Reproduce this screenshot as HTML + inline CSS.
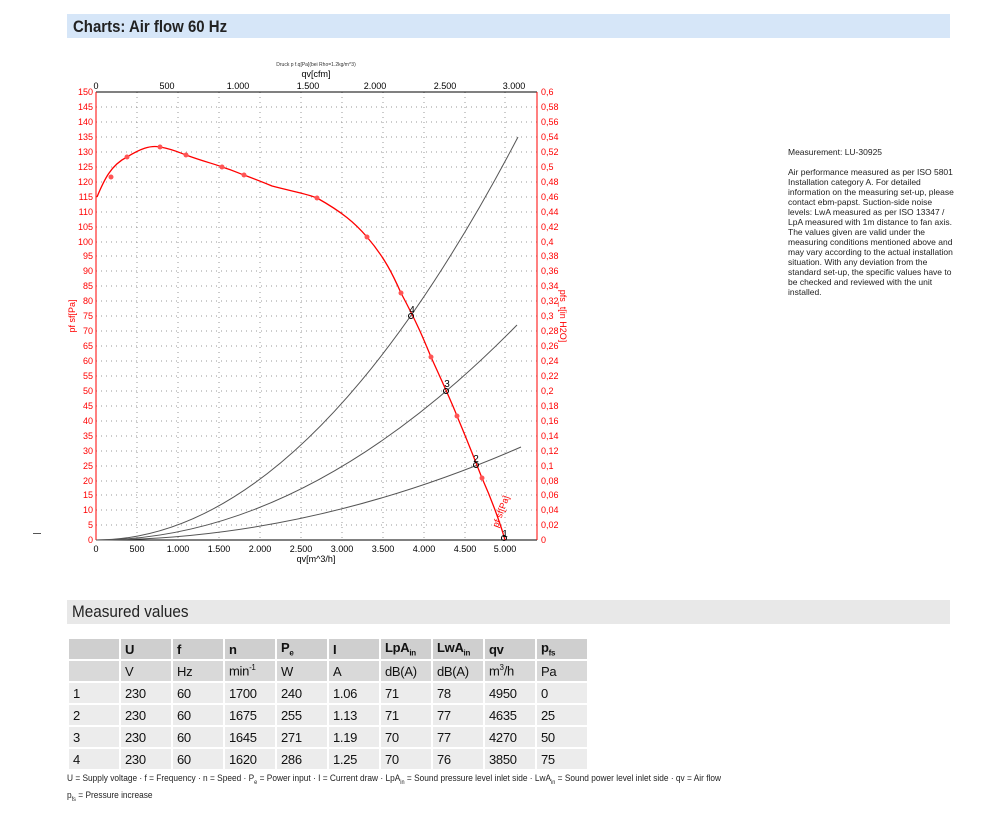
<!DOCTYPE html>
<html><head><meta charset="utf-8"><style>
body{margin:0;background:#fff;width:1000px;height:820px;position:relative;font-family:"Liberation Sans",Arial,sans-serif;overflow:hidden}
.bar{position:absolute;left:67px;width:883px;height:24px}
table{position:absolute;left:67px;top:637px;border-collapse:separate;border-spacing:2px;font-size:13px;font-family:"Liberation Sans",sans-serif}
td{height:20px;padding:0 0 0 4px;width:46px;color:#111;letter-spacing:-0.3px}
.h td{background:#cfcfcf}
.u td{background:#d9d9d9}
.r td{background:#ececec}
</style></head><body>
<div class="bar" style="top:14px;background:#d6e6f8"><span style="position:absolute;left:6px;top:3px;font-size:17px;font-weight:bold;color:#222;transform:scaleX(0.88);transform-origin:left;white-space:nowrap">Charts: Air flow 60 Hz</span></div>
<div style="position:absolute;left:33px;top:533px;width:8px;height:1px;background:#555"></div>
<svg style="position:absolute;left:0;top:0" width="1000" height="600" font-family="Liberation Sans, sans-serif">
<text x="316" y="66" font-size="5" text-anchor="middle" fill="#333">Druck p f.q[Pa](bei Rho=1.2kg/m^3)</text>
<text x="316" y="77" font-size="9" text-anchor="middle" fill="#000">qv[cfm]</text>
<g font-size="9" text-anchor="middle" fill="#000">
<text x="96" y="89">0</text><text x="167" y="89">500</text><text x="238" y="89">1.000</text><text x="308" y="89">1.500</text><text x="375" y="89">2.000</text><text x="445" y="89">2.500</text><text x="514" y="89">3.000</text>
</g>
<g stroke="#999" stroke-dasharray="1,4" stroke-width="1">
<line x1="96" x2="537" y1="107" y2="107"/><line x1="96" x2="537" y1="122" y2="122"/><line x1="96" x2="537" y1="137" y2="137"/><line x1="96" x2="537" y1="152" y2="152"/><line x1="96" x2="537" y1="167" y2="167"/><line x1="96" x2="537" y1="182" y2="182"/><line x1="96" x2="537" y1="197" y2="197"/><line x1="96" x2="537" y1="212" y2="212"/><line x1="96" x2="537" y1="227" y2="227"/><line x1="96" x2="537" y1="242" y2="242"/><line x1="96" x2="537" y1="256" y2="256"/><line x1="96" x2="537" y1="271" y2="271"/><line x1="96" x2="537" y1="286" y2="286"/><line x1="96" x2="537" y1="301" y2="301"/><line x1="96" x2="537" y1="316" y2="316"/><line x1="96" x2="537" y1="331" y2="331"/><line x1="96" x2="537" y1="346" y2="346"/><line x1="96" x2="537" y1="361" y2="361"/><line x1="96" x2="537" y1="376" y2="376"/><line x1="96" x2="537" y1="391" y2="391"/><line x1="96" x2="537" y1="406" y2="406"/><line x1="96" x2="537" y1="421" y2="421"/><line x1="96" x2="537" y1="436" y2="436"/><line x1="96" x2="537" y1="451" y2="451"/><line x1="96" x2="537" y1="466" y2="466"/><line x1="96" x2="537" y1="481" y2="481"/><line x1="96" x2="537" y1="495" y2="495"/><line x1="96" x2="537" y1="510" y2="510"/><line x1="96" x2="537" y1="525" y2="525"/>
<line x1="137" x2="137" y1="92" y2="540"/><line x1="178" x2="178" y1="92" y2="540"/><line x1="219" x2="219" y1="92" y2="540"/><line x1="260" x2="260" y1="92" y2="540"/><line x1="301" x2="301" y1="92" y2="540"/><line x1="342" x2="342" y1="92" y2="540"/><line x1="383" x2="383" y1="92" y2="540"/><line x1="424" x2="424" y1="92" y2="540"/><line x1="465" x2="465" y1="92" y2="540"/><line x1="505" x2="505" y1="92" y2="540"/>
</g>
<line x1="96" x2="537" y1="92" y2="92" stroke="#000"/>
<line x1="96" x2="537" y1="540" y2="540" stroke="#000"/>
<line x1="96" x2="96" y1="92" y2="540" stroke="#f00"/>
<line x1="537" x2="537" y1="92" y2="540" stroke="#f00"/>
<g font-size="9" fill="#f00" text-anchor="end">
<text x="93" y="95">150</text><text x="93" y="110">145</text><text x="93" y="125">140</text><text x="93" y="140">135</text><text x="93" y="155">130</text><text x="93" y="170">125</text><text x="93" y="185">120</text><text x="93" y="200">115</text><text x="93" y="215">110</text><text x="93" y="230">105</text><text x="93" y="245">100</text><text x="93" y="259">95</text><text x="93" y="274">90</text><text x="93" y="289">85</text><text x="93" y="304">80</text><text x="93" y="319">75</text><text x="93" y="334">70</text><text x="93" y="349">65</text><text x="93" y="364">60</text><text x="93" y="379">55</text><text x="93" y="394">50</text><text x="93" y="409">45</text><text x="93" y="424">40</text><text x="93" y="439">35</text><text x="93" y="454">30</text><text x="93" y="469">25</text><text x="93" y="484">20</text><text x="93" y="498">15</text><text x="93" y="513">10</text><text x="93" y="528">5</text><text x="93" y="543">0</text>
</g>
<g font-size="9" fill="#f00">
<text x="541" y="95">0,6</text><text x="541" y="110">0,58</text><text x="541" y="125">0,56</text><text x="541" y="140">0,54</text><text x="541" y="155">0,52</text><text x="541" y="170">0,5</text><text x="541" y="185">0,48</text><text x="541" y="200">0,46</text><text x="541" y="215">0,44</text><text x="541" y="230">0,42</text><text x="541" y="245">0,4</text><text x="541" y="259">0,38</text><text x="541" y="274">0,36</text><text x="541" y="289">0,34</text><text x="541" y="304">0,32</text><text x="541" y="319">0,3</text><text x="541" y="334">0,28</text><text x="541" y="349">0,26</text><text x="541" y="364">0,24</text><text x="541" y="379">0,22</text><text x="541" y="394">0,2</text><text x="541" y="409">0,18</text><text x="541" y="424">0,16</text><text x="541" y="439">0,14</text><text x="541" y="454">0,12</text><text x="541" y="469">0,1</text><text x="541" y="484">0,08</text><text x="541" y="498">0,06</text><text x="541" y="513">0,04</text><text x="541" y="528">0,02</text><text x="541" y="543">0</text>
</g>
<text transform="translate(75,316) rotate(-90)" font-size="9" fill="#f00" text-anchor="middle">pf sf[Pa]</text>
<text transform="translate(560,316) rotate(90)" font-size="9" fill="#f00" text-anchor="middle">pfs_t[in H2O]</text>
<g font-size="9" text-anchor="middle" fill="#000">
<text x="96" y="552">0</text><text x="137" y="552">500</text><text x="178" y="552">1.000</text><text x="219" y="552">1.500</text><text x="260" y="552">2.000</text><text x="301" y="552">2.500</text><text x="342" y="552">3.000</text><text x="383" y="552">3.500</text><text x="424" y="552">4.000</text><text x="465" y="552">4.500</text><text x="505" y="552">5.000</text>
</g>
<text x="316" y="562" font-size="9" text-anchor="middle">qv[m^3/h]</text>
<g fill="none" stroke="#555" stroke-width="1">
<path d="M96,540 Q307,540 518,137"/>
<path d="M96,540 Q306,540 517,325"/>
<path d="M96,540 Q308,540 521,447"/>
</g>
<path d="M97,197 C104,180 111,165 127,157 C140,149 150,145 160,147 C172,149 178,152 186,155 C205,162 215,164 222,167 C235,171 238,173 244,175 C260,181 265,183 272,186 C295,192 308,194 317,198 C342,212 355,223 367,237 C385,258 393,275 401,293 C418,325 424,340 431,357 C446,390 452,403 457,416 C470,447 476,463 482,478 C494,505 498,518 502,530 L505,540" fill="none" stroke="#f00" stroke-width="1.3"/>
<g fill="#f55">
<circle cx="111" cy="177" r="2.5"/><circle cx="127" cy="157" r="2.5"/><circle cx="160" cy="147" r="2.5"/><circle cx="186" cy="155" r="2.5"/><circle cx="222" cy="167" r="2.5"/><circle cx="244" cy="175" r="2.5"/><circle cx="317" cy="198" r="2.5"/><circle cx="367" cy="237" r="2.5"/><circle cx="401" cy="293" r="2.5"/><circle cx="431" cy="357" r="2.5"/><circle cx="457" cy="416" r="2.5"/><circle cx="482" cy="478" r="2.5"/>
</g>
<text transform="translate(498,528) rotate(-70)" font-size="9" fill="#f00">pf sf[Pa]</text>
<g font-size="10" fill="#000" text-anchor="middle">
<text x="412" y="313">4</text><text x="447" y="387">3</text><text x="476" y="462">2</text><text x="505" y="537">1</text>
</g>
<g fill="none" stroke="#000"><circle cx="411" cy="316" r="2.5"/><circle cx="446" cy="391" r="2.5"/><circle cx="476" cy="465" r="2.5"/><circle cx="504" cy="538" r="2.5"/></g>
</svg>
<div style="position:absolute;left:788px;top:147px;width:170px;font-size:8.5px;line-height:10px;color:#222">Measurement: LU-30925<br><br>Air performance measured as per ISO 5801 Installation category A. For detailed information on the measuring set-up, please contact ebm-papst. Suction-side noise levels: LwA measured as per ISO 13347 / LpA measured with 1m distance to fan axis. The values given are valid under the measuring conditions mentioned above and may vary according to the actual installation situation. With any deviation from the standard set-up, the specific values have to be checked and reviewed with the unit installed.</div>
<div class="bar" style="top:600px;background:#e8e8e8"><span style="position:absolute;left:5px;top:2px;font-size:17px;color:#222;transform:scaleX(0.9);transform-origin:left;white-space:nowrap">Measured values</span></div>
<table>
<tr class="h" style="font-weight:bold"><td></td><td>U</td><td>f</td><td>n</td><td>P<sub style="font-size:8px">e</sub></td><td>I</td><td>LpA<sub style="font-size:8px">in</sub></td><td>LwA<sub style="font-size:8px">in</sub></td><td>qv</td><td>p<sub style="font-size:8px">fs</sub></td></tr>
<tr class="u"><td></td><td>V</td><td>Hz</td><td>min<sup style="font-size:8px">-1</sup></td><td>W</td><td>A</td><td>dB(A)</td><td>dB(A)</td><td>m<sup style="font-size:8px">3</sup>/h</td><td>Pa</td></tr>
<tr class="r"><td>1</td><td>230</td><td>60</td><td>1700</td><td>240</td><td>1.06</td><td>71</td><td>78</td><td>4950</td><td>0</td></tr>
<tr class="r"><td>2</td><td>230</td><td>60</td><td>1675</td><td>255</td><td>1.13</td><td>71</td><td>77</td><td>4635</td><td>25</td></tr>
<tr class="r"><td>3</td><td>230</td><td>60</td><td>1645</td><td>271</td><td>1.19</td><td>70</td><td>77</td><td>4270</td><td>50</td></tr>
<tr class="r"><td>4</td><td>230</td><td>60</td><td>1620</td><td>286</td><td>1.25</td><td>70</td><td>76</td><td>3850</td><td>75</td></tr>
</table>
<div style="position:absolute;left:67px;top:773px;font-size:9px;color:#222;transform:scaleX(0.925);transform-origin:left;white-space:nowrap">U = Supply voltage · f = Frequency · n = Speed · P<sub style="font-size:6px">e</sub> = Power input · I = Current draw · LpA<sub style="font-size:6px">in</sub> = Sound pressure level inlet side · LwA<sub style="font-size:6px">in</sub> = Sound power level inlet side · qv = Air flow</div>
<div style="position:absolute;left:67px;top:790px;font-size:9px;color:#222;transform:scaleX(0.925);transform-origin:left;white-space:nowrap">p<sub style="font-size:6px">fs</sub> = Pressure increase</div>
</body></html>
